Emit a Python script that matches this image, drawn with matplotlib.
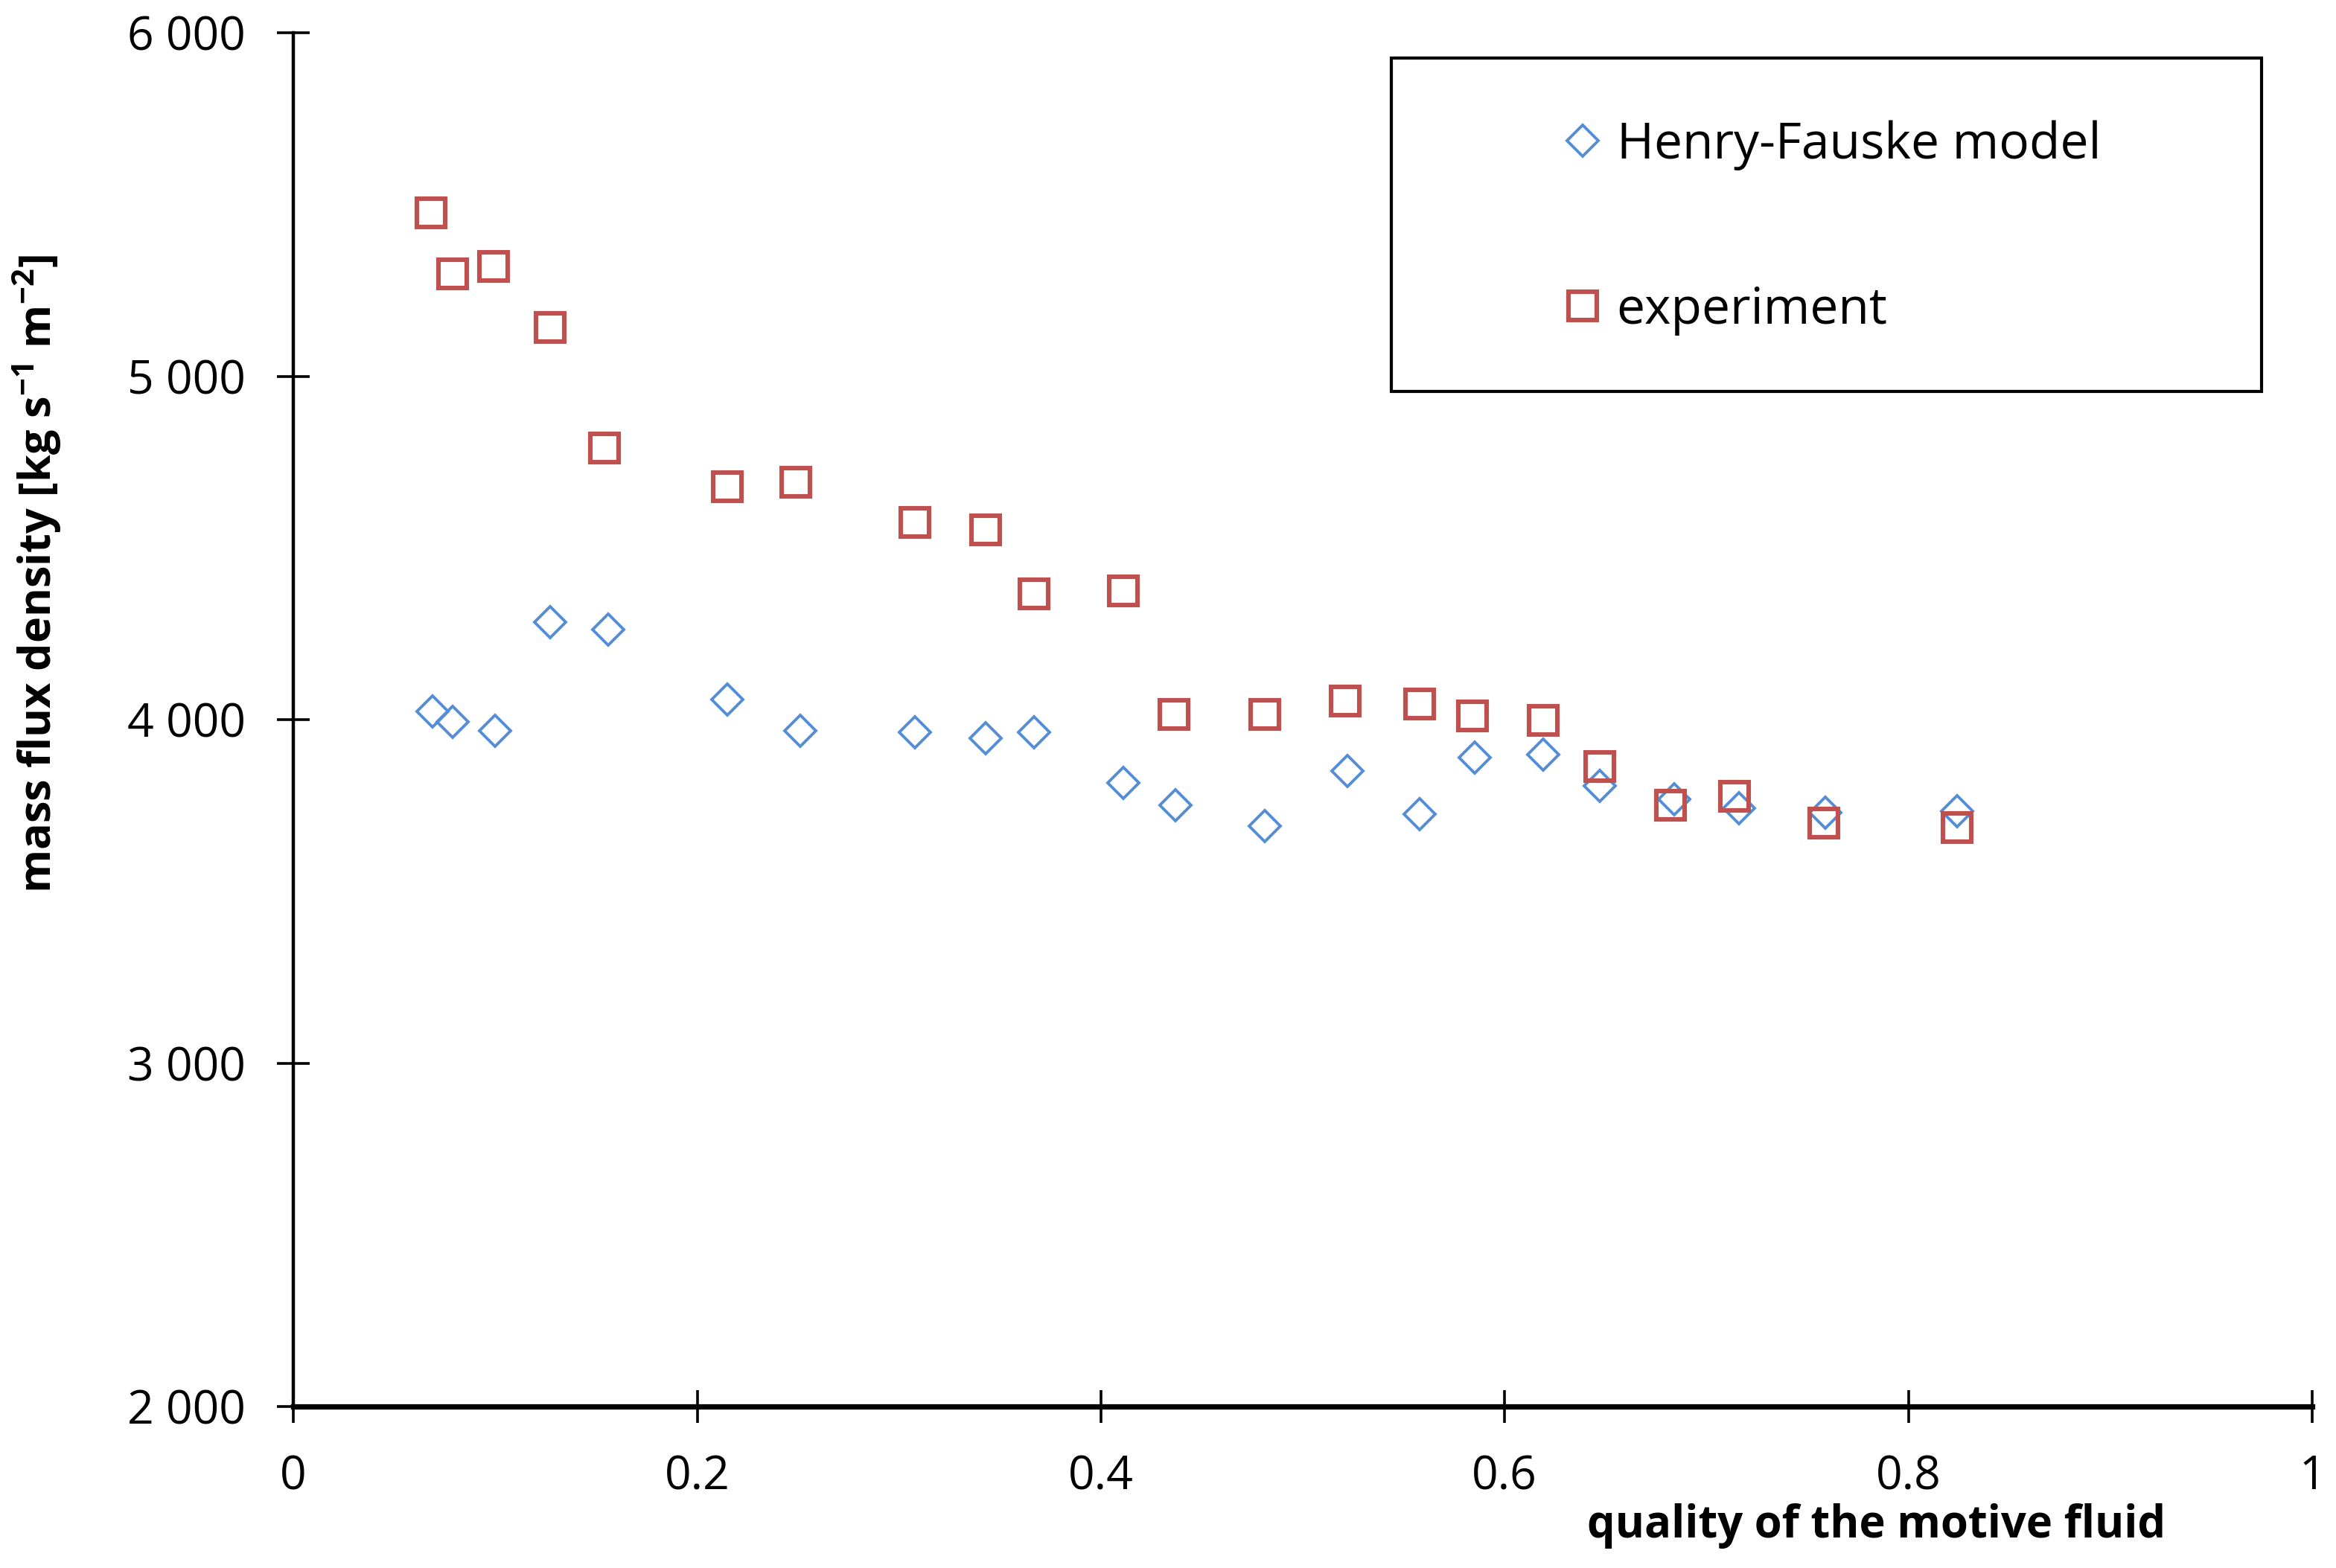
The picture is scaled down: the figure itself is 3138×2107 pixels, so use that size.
import matplotlib
matplotlib.use('Agg')
import matplotlib.pyplot as plt
from matplotlib.patches import Rectangle

plt.rcParams['font.family'] = ['Open Sans', 'DejaVu Sans']
plt.rcParams['mathtext.default'] = 'regular'

# quality of the motive fluid
x_model = [0.069, 0.079, 0.100, 0.127, 0.156, 0.215, 0.251, 0.308, 0.343, 0.367, 0.411,
           0.437, 0.481, 0.522, 0.558, 0.585, 0.619, 0.647, 0.684, 0.716, 0.759, 0.824]
g_model = [4024, 3994, 3968, 4284, 4262, 4059, 3968, 3963, 3946, 3963, 3816,
           3751, 3690, 3850, 3725, 3889, 3898, 3807, 3768, 3742, 3729, 3733]

x_exp = [0.068, 0.079, 0.099, 0.127, 0.154, 0.215, 0.249, 0.308, 0.343, 0.367, 0.411,
         0.436, 0.481, 0.521, 0.558, 0.584, 0.619, 0.647, 0.682, 0.714, 0.758, 0.824]
g_exp = [5476, 5298, 5320, 5142, 4791, 4678, 4691, 4574, 4553, 4366, 4375,
         4015, 4015, 4054, 4046, 4011, 3998, 3864, 3751, 3777, 3699, 3686]

xticks = [0, 0.2, 0.4, 0.6, 0.8, 1]
xlabels = ['0', '0.2', '0.4', '0.6', '0.8', '1']
yticks = [2000, 3000, 4000, 5000, 6000]
ylabels = ['2 000', '3 000', '4 000', '5 000', '6 000']

fig = plt.figure(figsize=(15.69, 10.535), dpi=200)
ax = fig.add_axes([0.1256, 0.103, 0.8642, 0.876])

ax.plot(x_model, g_model, linestyle='none', marker='D', markersize=10.5,
        markerfacecolor='none', markeredgecolor='#558ED5', markeredgewidth=1.4,
        label='Henry-Fauske model', clip_on=False)
ax.plot(x_exp, g_exp, linestyle='none', marker='s', markersize=14,
        markerfacecolor='none', markeredgecolor='#C0504D', markeredgewidth=2.2,
        label='experiment', clip_on=False)

ax.set_xlim(0, 1)
ax.set_ylim(2000, 6000)
ax.set_xticks(xticks)
ax.set_xticklabels(xlabels)
ax.set_yticks(yticks)
ax.set_yticklabels(ylabels)

for s in ['top', 'right']:
    ax.spines[s].set_visible(False)
ax.spines['left'].set_linewidth(1.6)
ax.spines['bottom'].set_linewidth(2.6)
ax.tick_params(axis='both', direction='inout', length=16, width=1.3,
               labelsize=22.5, pad=15, colors='black')

fig.text(0.016, 0.634, r'mass flux density [kg s$^{-1}$ m$^{-2}$]', rotation=90,
         fontsize=21.4, fontweight='bold', ha='center', va='center')
fig.text(0.927, 0.027, 'quality of the motive fluid', fontsize=21.5,
         fontweight='bold', ha='right', va='center')

# legend box
ax.add_patch(Rectangle((0.544, 0.739), 0.431, 0.2426, transform=ax.transAxes,
                       facecolor='white', edgecolor='black', linewidth=1.5,
                       clip_on=False, zorder=3))
leg = ax.legend(loc='center left', bbox_to_anchor=(0.616, 0.858), frameon=False,
                fontsize=24.4, handlelength=0.8, handletextpad=0.28,
                labelspacing=2.28, borderpad=0)
leg.set_zorder(4)

fig.savefig('out.png', dpi=200)
